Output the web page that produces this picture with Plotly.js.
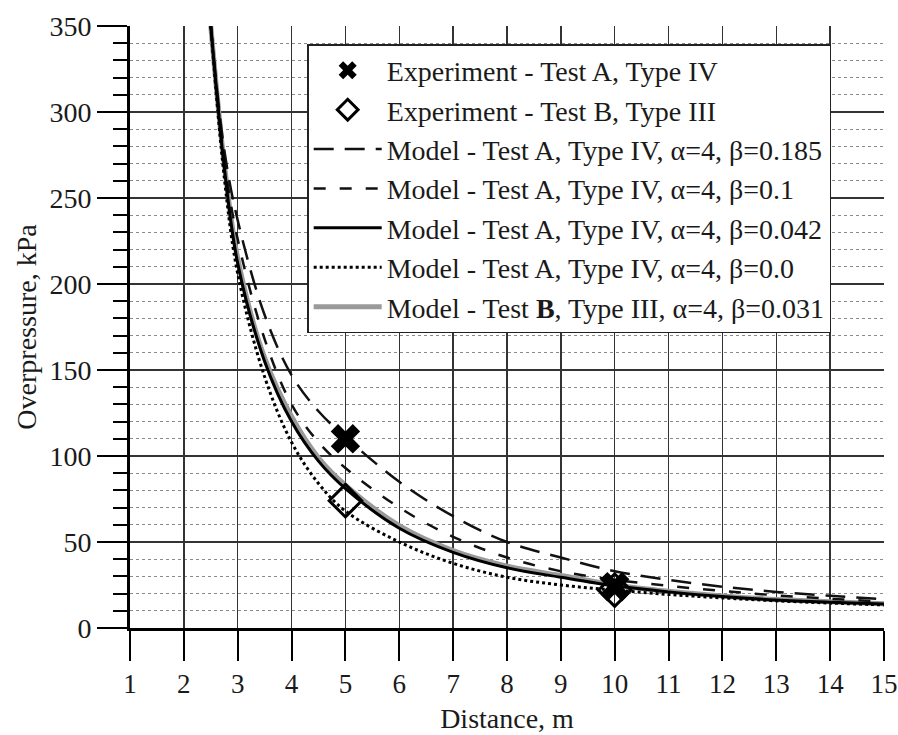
<!DOCTYPE html>
<html>
<head>
<meta charset="utf-8">
<script src="https://cdn.plot.ly/plotly-3.0.1.min.js"></script>
<style>html,body{margin:0;padding:0;background:#fff;}#chart{width:898px;height:735px;}</style>
</head>
<body>
<div id="chart"></div>
<script>
// Distances (m) at which the model curves were read
const distance = [2.5, 2.75, 3, 3.5, 4, 4.5, 5, 6, 7, 8, 9, 10, 11, 12, 13, 14, 15];
// Model curves, overpressure (kPa)
const modelA_b0185 = [350, 278, 237, 182, 147, 126, 111, 85, 65, 50, 41, 33, 28, 24, 21, 18.7, 16.7];
const modelA_b01   = [350, 272, 226, 168, 130, 108, 93, 70, 53, 41, 33, 28, 24.5, 21.5, 19, 17, 15.3];
const modelA_b0042 = [350, 268, 212, 155, 120, 97, 81, 58, 44, 35, 29.5, 24.5, 21, 18.3, 16.3, 15, 14];
const modelA_b00   = [350, 262, 206, 146, 108, 84, 68, 50, 37.6, 29.5, 25, 22, 19.5, 17.5, 15.8, 14.5, 13.4];
const modelB_b0031 = [350, 270, 215, 157, 123, 99, 83, 59.5, 45, 36, 30.5, 25, 21.3, 18.6, 16.6, 15.2, 14.1];
// Experimental points
const expA_x = [5, 10];
const expA_y = [110, 24];
const expB_x = [5, 10];
const expB_y = [74, 22];

const xTickVals = [1,2,3,4,5,6,7,8,9,10,11,12,13,14,15];
const yTickVals = [0,50,100,150,200,250,300,350];

const serif = "'Liberation Serif', 'Times New Roman', serif";
const ink = '#1a1a1a';

const data = [
  {x: distance, y: modelB_b0031, mode: 'lines', line: {color: '#9a9a9a', width: 5, shape: 'spline'},
   name: 'Model - Test <b>B</b>, Type III, α=4, β=0.031', legendrank: 7},
  {x: distance, y: modelA_b0185, mode: 'lines', line: {color: '#111', width: 2.5, dash: '20px,11px', shape: 'spline'},
   name: 'Model - Test A, Type IV, α=4, β=0.185', legendrank: 3},
  {x: distance, y: modelA_b01, mode: 'lines', line: {color: '#111', width: 2.5, dash: '12px,14px', shape: 'spline'},
   name: 'Model - Test A, Type IV, α=4, β=0.1', legendrank: 4},
  {x: distance, y: modelA_b0042, mode: 'lines', line: {color: '#000', width: 3, shape: 'spline'},
   name: 'Model - Test A, Type IV, α=4, β=0.042', legendrank: 5},
  {x: distance, y: modelA_b00, mode: 'lines', line: {color: '#000', width: 3, dash: 'dot', shape: 'spline'},
   name: 'Model - Test A, Type IV, α=4, β=0.0', legendrank: 6},
  {x: expA_x, y: expA_y, mode: 'markers', marker: {symbol: 'x', size: 26, color: '#000', line: {width: 0}},
   name: 'Experiment - Test A, Type IV', legendrank: 1},
  {x: expB_x, y: expB_y, mode: 'markers', marker: {symbol: 'diamond-open', size: 25, color: '#000', line: {width: 3, color: '#000'}},
   name: 'Experiment - Test B, Type III', legendrank: 2}
];

const layout = {
  width: 898, height: 735,
  margin: {l: 130, r: 14, t: 26, b: 107},
  paper_bgcolor: '#fff', plot_bgcolor: '#fff',
  font: {family: serif, color: ink, size: 28},
  showlegend: true,
  legend: {
    x: 0.235, y: 0.97, xanchor: 'left', yanchor: 'top',
    bgcolor: '#fff', bordercolor: '#222', borderwidth: 1.5,
    font: {family: serif, size: 28, color: ink},
    itemwidth: 68, traceorder: 'normal', tracegroupgap: 0
  },
  xaxis: {
    range: [1, 15], tickvals: xTickVals, ticktext: xTickVals.map(String),
    showgrid: true, gridcolor: '#333', gridwidth: 1.5,
    ticks: 'outside', ticklen: 30, tickwidth: 2, tickcolor: '#000',
    showline: true, linecolor: '#000', linewidth: 3,
    zeroline: false,
    tickfont: {family: serif, size: 27, color: ink},
    title: {text: 'Distance, m', font: {family: serif, size: 28, color: ink}, standoff: 10}
  },
  yaxis: {
    range: [0, 350], tickvals: yTickVals, ticktext: yTickVals.map(String),
    showgrid: true, gridcolor: '#333', gridwidth: 1.5,
    ticks: 'outside', ticklen: 30, tickwidth: 2, tickcolor: '#000',
    showline: true, linecolor: '#000', linewidth: 3,
    zeroline: false,
    minor: {dtick: 10, showgrid: true, gridcolor: '#8a8a8a', gridwidth: 1, griddash: 'dot',
            ticks: 'outside', ticklen: 14, tickwidth: 2, tickcolor: '#000'},
    tickfont: {family: serif, size: 28, color: ink},
    title: {text: 'Overpressure, kPa', font: {family: serif, size: 28, color: ink}, standoff: 5}
  }
};

Plotly.newPlot('chart', data, layout, {staticPlot: true, displayModeBar: false});
</script>
</body>
</html>
